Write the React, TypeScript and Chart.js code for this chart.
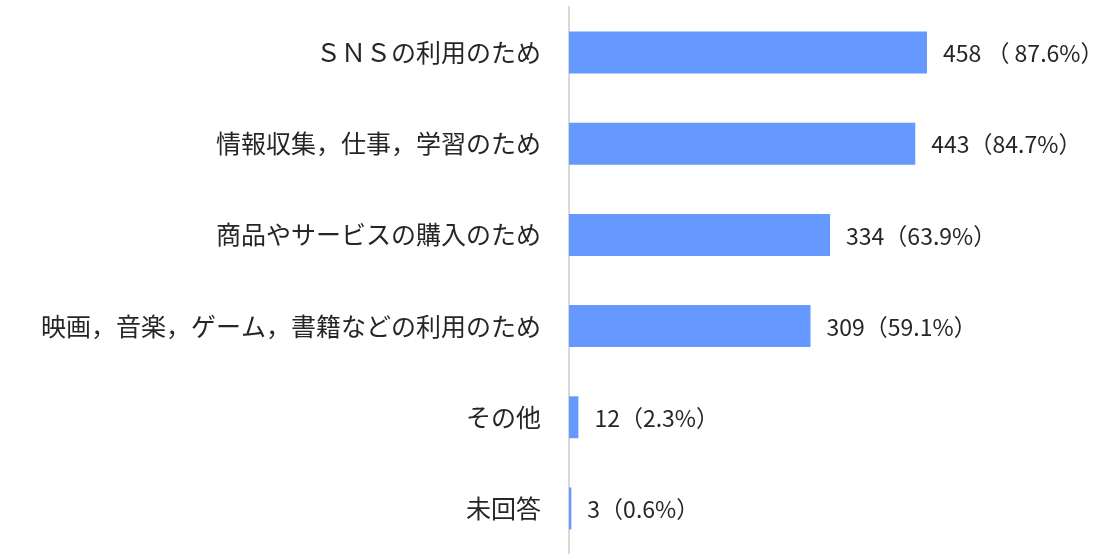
import React, { useEffect, useRef } from "react";
import { Chart, registerables } from "chart.js";

Chart.register(...registerables);

const categories = [
  "ＳＮＳの利用のため",
  "情報収集，仕事，学習のため",
  "商品やサービスの購入のため",
  "映画，音楽，ゲーム，書籍などの利用のため",
  "その他",
  "未回答",
];
const counts = [458, 443, 334, 309, 12, 3];
const valueLabels = [
  "458 （ 87.6%）",
  "443（84.7%）",
  "334（63.9%）",
  "309（59.1%）",
  "12（2.3%）",
  "3（0.6%）",
];

const FONT = "'Noto Sans CJK JP', 'Noto Sans', sans-serif";

const valueLabelPlugin = {
  id: "valueLabels",
  afterDatasetsDraw(chart: any) {
    const ctx = chart.ctx;
    const meta = chart.getDatasetMeta(0);
    ctx.save();
    ctx.font = `23px ${FONT}`;
    ctx.fillStyle = "#262626";
    ctx.textAlign = "left";
    ctx.textBaseline = "middle";
    meta.data.forEach((bar: any, i: number) => {
      ctx.fillText(valueLabels[i], bar.x + 16, bar.y + 1);
    });
    ctx.restore();
  },
};

export default function App() {
  const ref = useRef<HTMLCanvasElement | null>(null);
  useEffect(() => {
    if (!ref.current) return;
    const chart = new Chart(ref.current, {
      type: "bar",
      data: {
        labels: categories,
        datasets: [
          {
            data: counts,
            backgroundColor: "#6699ff",
            borderWidth: 0,
            barPercentage: 0.92,
            categoryPercentage: 0.5,
          },
        ],
      },
      options: {
        indexAxis: "y",
        animation: false,
        responsive: false,
        events: [],
        layout: { padding: { left: 0, right: 59, top: 7, bottom: 0 } },
        plugins: {
          legend: { display: false },
          tooltip: { enabled: false },
        },
        scales: {
          x: { display: false, min: 0, max: 600 },
          y: {
            afterFit: (scale: any) => {
              scale.width = 569;
              scale.paddingTop = 0;
              scale.paddingBottom = 0;
            },
            grid: { drawOnChartArea: false, drawTicks: false, color: "rgba(0,0,0,0)" },
            border: { display: true, color: "#d9d9d9", width: 2 },
            ticks: {
              padding: 28,
              color: "#262626",
              font: { family: FONT, size: 25 },
            },
          },
        },
      },
      plugins: [valueLabelPlugin],
    });
    return () => chart.destroy();
  }, []);
  return (
    <canvas
      ref={ref}
      width={1097}
      height={554}
      style={{ position: "absolute", left: 0, top: 0, display: "block", width: 1097, height: 554 }}
    />
  );
}
